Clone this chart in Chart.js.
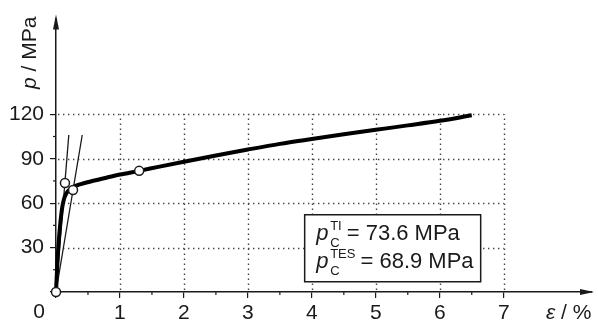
<!DOCTYPE html>
<html>
<head>
<meta charset="utf-8">
<script src="https://cdn.jsdelivr.net/npm/chart.js@4"></script>
<style>
  html, body { margin: 0; padding: 0; background: #fff; }
  #wrap { width: 598px; height: 320px; }
</style>
</head>
<body>
<div id="wrap"><canvas id="chart" width="598" height="320"></canvas></div>
<script>
// ---- data ----
const curveX = [0, 0.02, 0.05, 0.09, 0.12, 0.16, 0.22, 0.3, 0.4, 0.6, 0.8, 1.0, 1.3, 1.6, 2.0, 2.5, 3.0, 3.5, 4.0, 4.5, 5.0, 5.5, 6.0, 6.5];
const curveY = [0, 18, 38, 55, 62, 66.5, 69.5, 71.5, 73, 75.3, 77.3, 79.3, 81.8, 84.5, 88, 92.2, 96.2, 100, 103.3, 106.5, 109.5, 112.5, 115.6, 119.3];

// tangent lines, both starting at the origin
const tangentTI = [[0, 0], [0.2, 106]];
const tangentTES = [[0, 0], [0.41, 106]];

// open circles
const markerX = [0, 0.14, 0.266, 1.3];
const markerY = [0, 73.6, 68.9, 81.8];

const xTicks = [0, 1, 2, 3, 4, 5, 6, 7];
const yTicks = [0, 30, 60, 90, 120];
const X_GRID_MAX = 7;
const Y_GRID_MAX = 120;
const X_MAX = 8.38;
const Y_MAX = 184.6;

const resultLines = [
  { sup: 'TI', text: '= 73.6 MPa' },
  { sup: 'TES', text: '= 68.9 MPa' }
];

const INK = '#1a1a1a';
const FONT = 'Liberation Sans, Arial, sans-serif';

const toPts = (xs, ys) => xs.map((x, i) => ({ x, y: ys[i] }));
const pairPts = arr => arr.map(p => ({ x: p[0], y: p[1] }));

/* dotted grid, minor ticks, arrows, labels, result box */
const decor = {
  id: 'decor',
  beforeDatasetsDraw(chart) {
    const { ctx, scales: { x, y } } = chart;
    ctx.save();
    ctx.strokeStyle = '#444';
    ctx.lineWidth = 1.4;
    ctx.setLineDash([1.4, 3.6]);
    xTicks.filter(v => v > 0).forEach(v => {
      const px = Math.round(x.getPixelForValue(v)) + 0.5;
      ctx.beginPath();
      ctx.moveTo(px, y.getPixelForValue(0) - 2);
      ctx.lineTo(px, y.getPixelForValue(Y_GRID_MAX));
      ctx.stroke();
    });
    yTicks.filter(v => v > 0).forEach(v => {
      const py = Math.round(y.getPixelForValue(v)) + 0.5;
      ctx.beginPath();
      ctx.moveTo(x.getPixelForValue(0) + 2, py);
      ctx.lineTo(x.getPixelForValue(X_GRID_MAX), py);
      ctx.stroke();
    });
    ctx.setLineDash([]);

    // minor ticks
    ctx.strokeStyle = INK;
    ctx.lineWidth = 1.2;
    const bottom = y.getPixelForValue(0);
    const left = x.getPixelForValue(0);
    for (let v = 0.5; v < X_GRID_MAX; v += 1) {
      const px = x.getPixelForValue(v);
      ctx.beginPath(); ctx.moveTo(px, bottom); ctx.lineTo(px, bottom + 3); ctx.stroke();
    }
    for (let v = 15; v < Y_GRID_MAX; v += 30) {
      const py = y.getPixelForValue(v);
      ctx.beginPath(); ctx.moveTo(left, py); ctx.lineTo(left - 3, py); ctx.stroke();
    }
    ctx.restore();
  },
  afterDraw(chart) {
    const { ctx, chartArea: a, scales: { x, y } } = chart;
    ctx.save();
    ctx.fillStyle = INK;

    // arrow heads
    ctx.beginPath();
    ctx.moveTo(a.left, a.top - 4);
    ctx.lineTo(a.left - 3, a.top + 11);
    ctx.lineTo(a.left + 3, a.top + 11);
    ctx.closePath(); ctx.fill();
    ctx.beginPath();
    ctx.moveTo(a.right + 2, a.bottom);
    ctx.lineTo(a.right - 12, a.bottom - 3);
    ctx.lineTo(a.right - 12, a.bottom + 3);
    ctx.closePath(); ctx.fill();

    // origin label
    ctx.font = `21px ${FONT}`;
    ctx.textAlign = 'center';
    ctx.textBaseline = 'middle';
    ctx.fillText('0', 39, 312);

    // axis titles
    ctx.font = `italic 21px ${FONT}`;
    ctx.textAlign = 'left';
    ctx.textBaseline = 'alphabetic';
    const eps = 'ε';
    ctx.fillText(eps, 546, 319);
    const ew = ctx.measureText(eps).width;
    ctx.font = `21px ${FONT}`;
    ctx.fillText(' / %', 546 + ew, 319);

    ctx.save();
    ctx.translate(36, 89);
    ctx.rotate(-Math.PI / 2);
    ctx.font = `italic 21px ${FONT}`;
    ctx.fillText('p', 0, 0);
    const pw = ctx.measureText('p').width;
    ctx.font = `21px ${FONT}`;
    ctx.fillText(' / MPa', pw, 0);
    ctx.restore();

    // result box
    const bx = x.getPixelForValue(3.88), by = y.getPixelForValue(52.5);
    const bw = 176, bh = 67;
    ctx.fillStyle = '#fff';
    ctx.fillRect(bx, by, bw, bh);
    ctx.strokeStyle = INK;
    ctx.lineWidth = 1.5;
    ctx.strokeRect(bx + 0.5, by + 0.5, bw, bh);
    ctx.fillStyle = INK;
    resultLines.forEach((r, i) => {
      const base = by + 26 + i * 27.5;
      const x0 = bx + 12;
      ctx.font = `italic 22px ${FONT}`;
      ctx.fillText('p', x0, base);
      ctx.font = `13px ${FONT}`;
      ctx.fillText(r.sup, x0 + 14, base - 10);
      const sw = ctx.measureText(r.sup).width;
      ctx.fillText('C', x0 + 14, base + 7);
      ctx.font = `22px ${FONT}`;
      ctx.fillText(r.text, x0 + 14 + Math.max(sw, 9) + 5, base);
    });
    ctx.restore();
  }
};

const tickFont = { family: FONT, size: 21 };

new Chart(document.getElementById('chart'), {
  type: 'scatter',
  data: {
    datasets: [
      {
        data: toPts(markerX, markerY),
        showLine: false,
        pointRadius: 4.5,
        pointBackgroundColor: '#fff',
        pointBorderColor: INK,
        pointBorderWidth: 1.5,
        clip: false
      },
      {
        data: toPts(curveX, curveY),
        showLine: true,
        borderColor: '#000',
        borderWidth: 4,
        pointRadius: 0,
        cubicInterpolationMode: 'monotone',
        clip: false
      },
      {
        data: pairPts(tangentTI),
        showLine: true,
        borderColor: INK,
        borderWidth: 1.3,
        pointRadius: 0,
        clip: false
      },
      {
        data: pairPts(tangentTES),
        showLine: true,
        borderColor: INK,
        borderWidth: 1.3,
        pointRadius: 0,
        clip: false
      }
    ]
  },
  options: {
    responsive: false,
    animation: false,
    layout: { padding: { top: 12, right: 3, left: 0, bottom: 0 } },
    plugins: { legend: { display: false }, tooltip: { enabled: false } },
    scales: {
      x: {
        type: 'linear',
        min: 0,
        max: X_MAX,
        afterFit: s => { s.height = 28; },
        afterBuildTicks: s => { s.ticks = xTicks.map(v => ({ value: v })); },
        ticks: {
          callback: v => (v === 0 ? '' : v),
          color: INK,
          font: tickFont,
          padding: 3,
          maxRotation: 0,
          autoSkip: false
        },
        grid: { drawOnChartArea: false, color: INK, tickLength: 6, lineWidth: 1.2 },
        border: { color: INK, width: 1.5 }
      },
      y: {
        type: 'linear',
        min: 0,
        max: Y_MAX,
        afterFit: s => { s.width = 56; },
        afterBuildTicks: s => { s.ticks = yTicks.map(v => ({ value: v })); },
        ticks: {
          callback: v => (v === 0 ? '' : v),
          color: INK,
          font: tickFont,
          padding: 6,
          autoSkip: false
        },
        grid: { drawOnChartArea: false, color: INK, tickLength: 6, lineWidth: 1.2 },
        border: { color: INK, width: 1.5 }
      }
    }
  },
  plugins: [decor]
});
</script>
</body>
</html>
